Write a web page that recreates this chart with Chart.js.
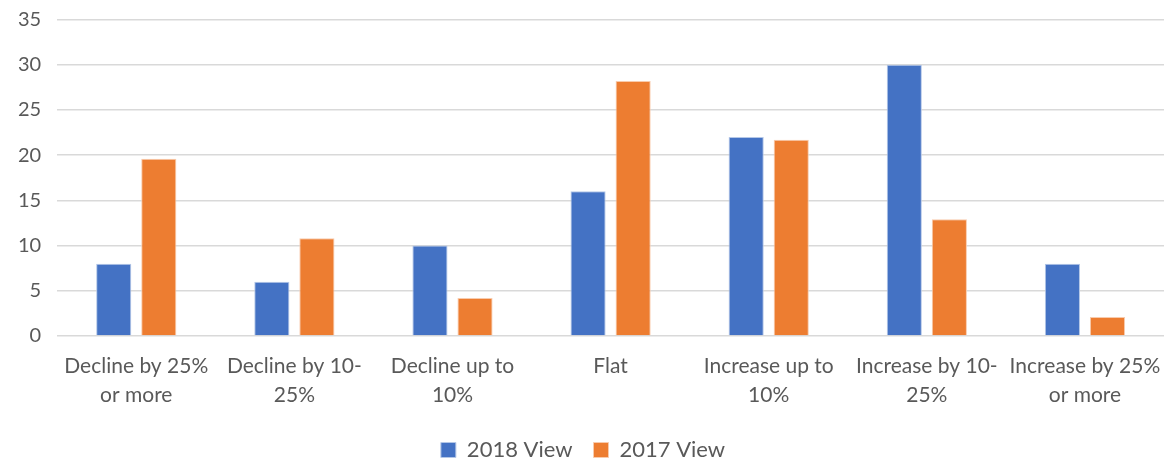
<!DOCTYPE html>
<html>
<head>
<meta charset="utf-8">
<script src="https://cdn.jsdelivr.net/npm/chart.js@4"></script>
<style>
  html, body { margin: 0; padding: 0; background: #fff; }
  #wrap { width: 1171px; height: 463px; }
</style>
</head>
<body>
<div id="wrap"><canvas id="view_chart"></canvas></div>
<script>
// outlook buckets, split in two lines the way the axis wraps them
const categories = [
  ['Decline by 25%', 'or more'],
  ['Decline by 10-', '25%'],
  ['Decline up to', '10%'],
  'Flat',
  ['Increase up to', '10%'],
  ['Increase by 10-', '25%'],
  ['Increase by 25%', 'or more']
]
const view_2018 = [8, 6, 10, 16, 22, 30, 8]
const view_2017 = [19.6, 10.8, 4.2, 28.2, 21.7, 12.9, 2.1]
const y_ticks = [0, 5, 10, 15, 20, 25, 30, 35]

const txt = '#595959'
const fam = 'Lato, "Open Sans", sans-serif'

new Chart('view_chart', {
  type: 'bar',
  data: {
    labels: categories,
    datasets: [
      { label: '2018 View', data: view_2018, backgroundColor: '#4472C4', borderColor: '#b4c7e7', borderWidth: 1 },
      { label: '2017 View', data: view_2017, backgroundColor: '#ED7D31', borderColor: '#f8cbad', borderWidth: 1 }
    ]
  },
  options: {
    responsive: true,
    maintainAspectRatio: false,
    animation: false,
    categoryPercentage: 0.57,
    barPercentage: 0.78,
    layout: { padding: { top: 0, right: 7, left: 2, bottom: -8 } },
    plugins: {
      tooltip: { enabled: false },
      legend: {
        position: 'bottom',
        labels: {
          boxWidth: 15, boxHeight: 15, padding: 21,
          color: txt, font: { family: fam, size: 22 }
        }
      }
    },
    scales: {
      x: {
        grid: { display: false },
        border: { display: false },
        ticks: {
          color: txt, maxRotation: 0, autoSkip: false, padding: 8,
          font: { family: fam, size: 21, lineHeight: 1.38 }
        }
      },
      y: {
        min: 0, max: 35,
        afterBuildTicks: axis => { axis.ticks = y_ticks.map(v => ({ value: v })) },
        grid: { color: '#d9d9d9', lineWidth: 1.5, drawTicks: false },
        border: { display: false },
        // small lineHeight keeps the top label from pushing the plot down
        ticks: { color: txt, padding: 16, font: { family: fam, size: 20, lineHeight: 0.35 } }
      }
    }
  }
})
</script>
</body>
</html>
